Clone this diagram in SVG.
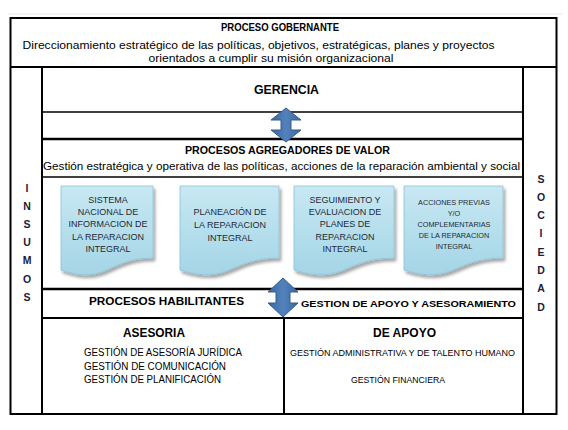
<svg xmlns="http://www.w3.org/2000/svg" width="568" height="430" viewBox="0 0 568 430">
<defs>
<linearGradient id="docFill" x1="0" y1="0" x2="0" y2="1">
<stop offset="0" stop-color="#c8e8f3"/>
<stop offset="1" stop-color="#a4d5e6"/>
</linearGradient>
<linearGradient id="arrowFill" x1="0" y1="0" x2="1" y2="0">
<stop offset="0" stop-color="#3c689e"/>
<stop offset="0.5" stop-color="#5282be"/>
<stop offset="1" stop-color="#3c689e"/>
</linearGradient>
<filter id="shadow" x="-10%" y="-10%" width="130%" height="130%">
<feDropShadow dx="2" dy="3" stdDeviation="1.8" flood-color="#000" flood-opacity="0.35"/>
</filter>
</defs>
<style>
text { font-family: "Liberation Sans", Arial, sans-serif; fill: #000; }
.b { font-weight: bold; }
.ln { stroke: #000; fill: none; }
.doc { fill: url(#docFill); stroke: #8cc3d6; stroke-width: 0.8; filter: url(#shadow); }
.dt { font-size: 9px; fill: #1e2a36; text-anchor: middle; }
.dt4 { font-size: 7.3px; fill: #1e2a36; text-anchor: middle; }
.vl { font-size: 10.5px; font-weight: bold; fill: #1b1b3a; text-anchor: middle; }
.arr { fill: url(#arrowFill); stroke: #385d8a; stroke-width: 1; }
</style>
<rect width="568" height="430" fill="#fff"/>
<line x1="8" y1="14" x2="562" y2="14" stroke="#e2e9ef" stroke-width="1"/>

<g id="frame">
<rect class="ln" x="10.5" y="18" width="546" height="396" stroke-width="2"/>
<line class="ln" x1="10.5" y1="67" x2="556.5" y2="67" stroke-width="2"/>
<line class="ln" x1="42" y1="67" x2="42" y2="414" stroke-width="2"/>
<line class="ln" x1="523" y1="67" x2="523" y2="414" stroke-width="2"/>
<line class="ln" x1="42" y1="112" x2="523" y2="112" stroke-width="1.6"/>
<line class="ln" x1="42" y1="139" x2="523" y2="139" stroke-width="2.6"/>
<line class="ln" x1="42" y1="177" x2="523" y2="177" stroke-width="1.6"/>
<line class="ln" x1="42" y1="289" x2="523" y2="289" stroke-width="2.6"/>
<line class="ln" x1="42" y1="318" x2="523" y2="318" stroke-width="2"/>
<line class="ln" x1="284" y1="318" x2="284" y2="414" stroke-width="2"/>
</g>

<g id="proceso-gobernante">
<text class="b" x="221" y="31" font-size="10" textLength="118" lengthAdjust="spacingAndGlyphs">PROCESO GOBERNANTE</text>
<text x="22.5" y="48.5" font-size="10.5" textLength="472" lengthAdjust="spacingAndGlyphs">Direccionamiento estratégico de las políticas, objetivos, estratégicas, planes y proyectos</text>
<text x="148.5" y="61.5" font-size="10.5" textLength="245" lengthAdjust="spacingAndGlyphs">orientados a cumplir su misión organizacional</text>
</g>

<g id="gerencia">
<text class="b" x="254" y="93.5" font-size="12" textLength="65" lengthAdjust="spacingAndGlyphs">GERENCIA</text>
</g>

<g id="procesos-agregadores">
<text class="b" x="185" y="153.5" font-size="10" textLength="205" lengthAdjust="spacingAndGlyphs">PROCESOS AGREGADORES  DE VALOR</text>
<text x="43" y="170" font-size="10.5" textLength="477" lengthAdjust="spacingAndGlyphs">Gestión estratégica y operativa de las políticas, acciones de la reparación ambiental y social</text>
</g>

<g id="doc-sistema">
<path class="doc" d="M61,186 H153 V258 C107,258 107,285.6 61,270 Z"/>
<text class="dt" x="108" y="203">SISTEMA</text>
<text class="dt" x="108" y="215">NACIONAL DE</text>
<text class="dt" x="108" y="227">INFORMACION DE</text>
<text class="dt" x="108" y="239.5">LA REPARACION</text>
<text class="dt" x="108" y="251.5">INTEGRAL</text>
</g>

<g id="doc-planeacion">
<path class="doc" d="M180,186 H279 V258 C229.5,258 229.5,285.6 180,270 Z"/>
<text class="dt" x="230" y="215">PLANEACIÓN DE</text>
<text class="dt" x="230" y="228">LA REPARACION</text>
<text class="dt" x="230" y="240.5">INTEGRAL</text>
</g>

<g id="doc-seguimiento">
<path class="doc" d="M294,186 H394 V258 C344,258 344,285.6 294,270 Z"/>
<text class="dt" x="345" y="203" font-size="9.3">SEGUIMIENTO Y</text>
<text class="dt" x="345" y="215" font-size="9.3">EVALUACION  DE</text>
<text class="dt" x="345" y="227" font-size="9.3">PLANES DE</text>
<text class="dt" x="345" y="239.5" font-size="9.3">REPARACION</text>
<text class="dt" x="345" y="251.5" font-size="9.3">INTEGRAL</text>
</g>

<g id="doc-acciones">
<path class="doc" d="M404,186 H503 V258 C453.5,258 453.5,285.6 404,270 Z"/>
<text class="dt4" x="454" y="204.5">ACCIONES  PREVIAS</text>
<text class="dt4" x="454" y="215.5">Y/O</text>
<text class="dt4" x="454" y="227">COMPLEMENTARIAS</text>
<text class="dt4" x="454" y="237.5">DE LA REPARACION</text>
<text class="dt4" x="454" y="248.5">INTEGRAL</text>
</g>

<g id="procesos-habilitantes">
<text class="b" x="89" y="305" font-size="11.5" textLength="155" lengthAdjust="spacingAndGlyphs">PROCESOS HABILITANTES</text>
<text class="b" x="301" y="307" font-size="9.5" textLength="215" lengthAdjust="spacingAndGlyphs">GESTION DE APOYO Y ASESORAMIENTO</text>
</g>

<g id="asesoria">
<text class="b" x="123" y="337" font-size="12.5" textLength="62" lengthAdjust="spacingAndGlyphs">ASESORIA</text>
<text x="84" y="356" font-size="10" textLength="158" lengthAdjust="spacingAndGlyphs">GESTIÓN DE ASESORÍA JURÍDICA</text>
<text x="84" y="369.5" font-size="10" textLength="142" lengthAdjust="spacingAndGlyphs">GESTIÓN DE COMUNICACIÓN</text>
<text x="84" y="383" font-size="10" textLength="137" lengthAdjust="spacingAndGlyphs">GESTIÓN DE PLANIFICACIÓN</text>
</g>

<g id="de-apoyo">
<text class="b" x="373" y="337" font-size="12.5" textLength="63" lengthAdjust="spacingAndGlyphs">DE APOYO</text>
<text x="290" y="355.5" font-size="8.8" textLength="225" lengthAdjust="spacingAndGlyphs">GESTIÓN ADMINISTRATIVA Y DE TALENTO HUMANO</text>
<text x="351" y="382.5" font-size="8.8" textLength="94" lengthAdjust="spacingAndGlyphs">GESTIÓN FINANCIERA</text>
</g>

<g id="insumos">
<text class="vl" x="27" y="191.5">I</text>
<text class="vl" x="27" y="209.7">N</text>
<text class="vl" x="27" y="227.9">S</text>
<text class="vl" x="27" y="246.1">U</text>
<text class="vl" x="27" y="264.3">M</text>
<text class="vl" x="27" y="282.5">O</text>
<text class="vl" x="27" y="300.7">S</text>
</g>

<g id="sociedad">
<text class="vl" x="541" y="182.5">S</text>
<text class="vl" x="541" y="200.8">O</text>
<text class="vl" x="541" y="219.1">C</text>
<text class="vl" x="541" y="237.4">I</text>
<text class="vl" x="541" y="255.7">E</text>
<text class="vl" x="541" y="274">D</text>
<text class="vl" x="541" y="292.3">A</text>
<text class="vl" x="541" y="310.6">D</text>
</g>

<g id="connectors">
<path class="arr" d="M286,108 L301,120 L291,120 L291,130 L301,130 L286,142 L271,130 L281,130 L281,120 L271,120 Z"/>
<path class="arr" d="M283,278 L298,292 L290,292 L290,303 L298,303 L283,317 L268,303 L276,303 L276,292 L268,292 Z"/>
</g>
</svg>
